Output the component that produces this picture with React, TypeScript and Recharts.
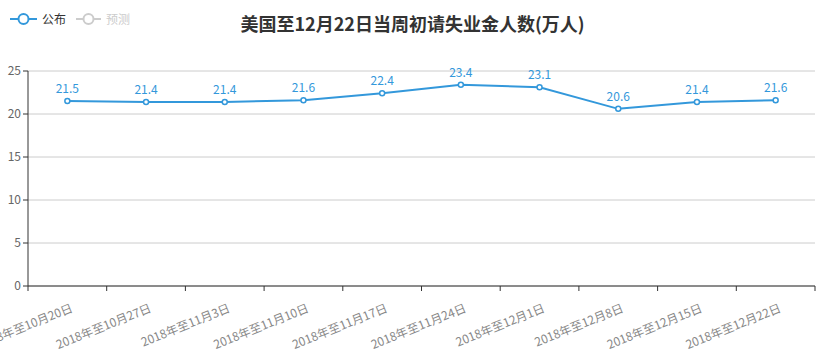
import { LineChart, Line, XAxis, YAxis, CartesianGrid, LabelList } from "recharts";

const weeks = [
  "2018年至10月20日",
  "2018年至10月27日",
  "2018年至11月3日",
  "2018年至11月10日",
  "2018年至11月17日",
  "2018年至11月24日",
  "2018年至12月1日",
  "2018年至12月8日",
  "2018年至12月15日",
  "2018年至12月22日",
];
const published = [21.5, 21.4, 21.4, 21.6, 22.4, 23.4, 23.1, 20.6, 21.4, 21.6];
const yTicks = [0, 5, 10, 15, 20, 25];

const data = weeks.map((w, i) => ({ week: w, value: published[i] }));

const W = 825;
const H = 361;
const LEFT = 28;
const RIGHT = 10;
const TOP = 71;
const BOTTOM = 75;
const BLUE = "#3398db";
const FONT = "'Noto Sans CJK SC', 'Noto Sans', sans-serif";
const band = (W - LEFT - RIGHT) / weeks.length;

// eslint-disable-next-line @typescript-eslint/no-explicit-any
const XTick = (props: any) => {
  const { x, y, payload, index } = props;
  const last = index === weeks.length - 1;
  const tx = x + 2;
  const ty = y + 15;
  return (
    <g>
      <line x1={x - band / 2} y1={y} x2={x - band / 2} y2={y + 5} stroke="#333" />
      {last && <line x1={x + band / 2} y1={y} x2={x + band / 2} y2={y + 5} stroke="#333" />}
      <text
        x={tx}
        y={ty}
        textAnchor="end"
        fontSize={12}
        fill="#888"
        fontFamily={FONT}
        transform={`rotate(-22, ${tx}, ${ty})`}
        dominantBaseline="hanging"
      >
        {payload.value}
      </text>
    </g>
  );
};

export default function App() {
  return (
    <div style={{ position: "absolute", left: 0, top: 0, width: W, height: H, background: "#fff", fontFamily: FONT }}>
      <LineChart width={W} height={H} data={data} margin={{ top: TOP, right: RIGHT, bottom: 0, left: 0 }}>
        <CartesianGrid vertical={false} stroke="#ccc" />
        <XAxis
          dataKey="week"
          scale="band"
          interval={0}
          height={BOTTOM}
          axisLine={{ stroke: "#333" }}
          tickLine={false}
          tickSize={0}
          tickMargin={0}
          tick={<XTick />}
        />
        <YAxis
          domain={[0, 25]}
          ticks={yTicks}
          width={LEFT}
          axisLine={{ stroke: "#333" }}
          tickLine={{ stroke: "#333" }}
          tickSize={5}
          tick={{ fontSize: 12, fill: "#666", fontFamily: FONT }}
          interval={0}
        />
        <Line
          type="linear"
          dataKey="value"
          stroke={BLUE}
          strokeWidth={2}
          dot={{ r: 2.5, stroke: BLUE, strokeWidth: 1.5, fill: "#fff" }}
          activeDot={false}
          isAnimationActive={false}
        >
          <LabelList dataKey="value" position="top" offset={8} fill={BLUE} fontSize={12} fontFamily={FONT} />
        </Line>
      </LineChart>
      <div
        style={{
          position: "absolute",
          left: 0,
          width: W,
          top: 10,
          textAlign: "center",
          fontSize: 18,
          fontWeight: "bold",
          color: "#333",
        }}
      >
        美国至12月22日当周初请失业金人数(万人)
      </div>
      <svg style={{ position: "absolute", left: 0, top: 0 }} width={130} height={36}>
        <line x1={10} y1={19} x2={37} y2={19} stroke={BLUE} strokeWidth={2} />
        <circle cx={23.5} cy={19} r={5} fill="#fff" stroke={BLUE} strokeWidth={2} />
        <text x={42} y={23.5} fontSize={12} fill="#333" fontFamily={FONT}>公布</text>
        <line x1={76} y1={19} x2={101} y2={19} stroke="#ccc" strokeWidth={2} />
        <circle cx={88.5} cy={19} r={5} fill="#fff" stroke="#ccc" strokeWidth={2} />
        <text x={106} y={23.5} fontSize={12} fill="#ccc" fontFamily={FONT}>预测</text>
      </svg>
    </div>
  );
}
